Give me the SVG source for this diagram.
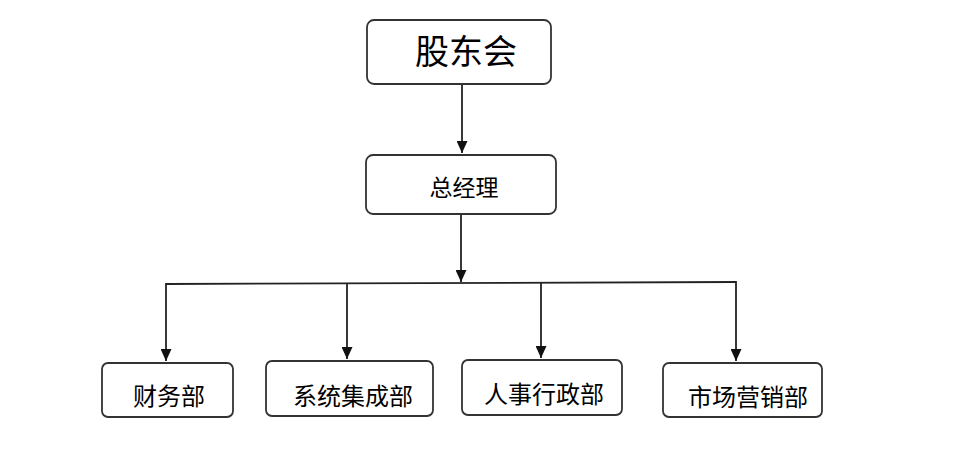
<svg xmlns="http://www.w3.org/2000/svg" width="958" height="457" viewBox="0 0 958 457">
<style>
.box{fill:#fff;stroke:#333;stroke-width:1.8}
.t{font-family:"Noto Sans CJK SC","Noto Sans",sans-serif;fill:#000;text-anchor:middle}
.c{fill:none;stroke:#222;stroke-width:1.8}
</style>
<defs>
<marker id="ah" viewBox="0 0 10 12" refX="10" refY="6" markerWidth="12" markerHeight="11" markerUnits="userSpaceOnUse" orient="auto" preserveAspectRatio="none">
<path d="M0,0 L10,6 L0,12 Z" fill="#111"/>
</marker>
</defs>
<rect width="958" height="457" fill="#fff"/>
<g id="connectors">
<line class="c" x1="462" y1="84" x2="462" y2="153" marker-end="url(#ah)"/>
<line class="c" x1="461" y1="214" x2="461" y2="282" marker-end="url(#ah)"/>
<polyline class="c" points="166,284 736,282"/>
<line class="c" x1="166" y1="283" x2="166" y2="361" marker-end="url(#ah)"/>
<line class="c" x1="347" y1="284" x2="347" y2="359" marker-end="url(#ah)"/>
<line class="c" x1="541" y1="283" x2="541" y2="358" marker-end="url(#ah)"/>
<line class="c" x1="736" y1="281" x2="736" y2="361" marker-end="url(#ah)"/>
</g>
<g id="n-gudonghui">
<rect class="box" x="367" y="20" width="184" height="64" rx="7"/>
<text class="t" x="466" y="64" font-size="34">股东会</text>
</g>
<g id="n-zongjingli">
<rect class="box" x="366" y="155" width="190" height="59" rx="7"/>
<text class="t" x="464" y="196" font-size="23">总经理</text>
</g>
<g id="n-caiwu">
<rect class="box" x="102" y="363" width="131" height="54" rx="6"/>
<text class="t" x="169" y="405" font-size="24">财务部</text>
</g>
<g id="n-xitong">
<rect class="box" x="266" y="361" width="167" height="55" rx="6"/>
<text class="t" x="353" y="405" font-size="24">系统集成部</text>
</g>
<g id="n-renshi">
<rect class="box" x="462" y="360" width="160" height="55" rx="6"/>
<text class="t" x="544" y="403" font-size="24">人事行政部</text>
</g>
<g id="n-shichang">
<rect class="box" x="663" y="363" width="159" height="54" rx="6"/>
<text class="t" x="748" y="406" font-size="24">市场营销部</text>
</g>
</svg>
